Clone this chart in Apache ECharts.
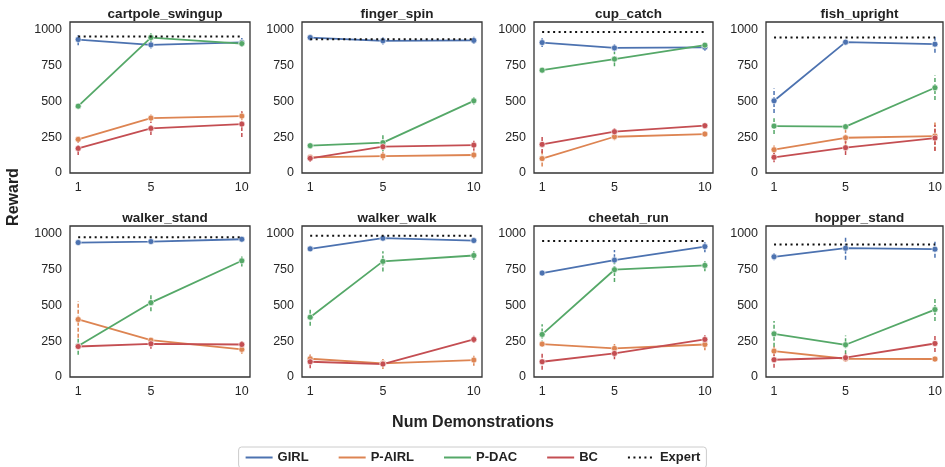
<!DOCTYPE html>
<html>
<head>
<meta charset="utf-8">
<script src="https://cdn.jsdelivr.net/npm/echarts@6/dist/echarts.min.js"></script>
<style>
  html, body { margin: 0; padding: 0; background: #fff; }
  #chart { width: 945px; height: 467px; }
</style>
</head>
<body>
<div id="chart"></div>
<script>
// number of demonstrations (x values)
var demos = [1, 5, 10];
var tasks = ['cartpole_swingup', 'finger_spin', 'cup_catch', 'fish_upright',
             'walker_stand', 'walker_walk', 'cheetah_run', 'hopper_stand'];
var yTicks = [0, 250, 500, 750, 1000];

// mean reward per task, one row per task (demos 1, 5, 10)
var girlMean = [[928, 891, 908], [942, 919, 922], [907, 870, 874], [502, 910, 896],
                [935, 942, 958], [891, 965, 949], [723, 813, 907], [836, 896, 889]];
var girlErr = [[40, 25, 30], [20, 25, 25], [30, 25, 25], [85, 10, 60],
               [15, 15, 15], [10, 15, 15], [20, 70, 40], [25, 80, 60]];

var pairlMean = [[234, 382, 396], [109, 118, 125], [100, 252, 271], [162, 245, 257],
                 [400, 256, 192], [127, 95, 118], [229, 199, 226], [180, 127, 125]];
var pairlErr = [[20, 25, 30], [20, 30, 25], [55, 25, 20], [40, 90, 100],
                [127, 20, 30], [40, 40, 40], [20, 30, 40], [35, 20, 20]];

var pdacMean = [[465, 942, 900], [190, 211, 502], [715, 792, 889], [326, 322, 593],
                [215, 517, 808], [416, 804, 845], [296, 746, 776], [300, 224, 469]];
var pdacErr = [[10, 30, 20], [20, 60, 25], [15, 50, 15], [55, 10, 85],
               [60, 60, 40], [60, 70, 30], [70, 85, 40], [90, 65, 80]];

var bcMean = [[171, 310, 340], [102, 183, 194], [199, 287, 329], [109, 176, 243],
              [212, 231, 226], [106, 90, 261], [106, 164, 261], [120, 134, 233]];
var bcErr = [[45, 45, 90], [25, 15, 40], [60, 25, 20], [35, 50, 90],
             [15, 35, 25], [45, 20, 25], [55, 40, 40], [55, 30, 60]];

var expertReward = [950, 930, 981, 942, 972, 982, 945, 922];

var methods = [
  { name: 'GIRL', color: '#4c72b0', mean: girlMean, err: girlErr },
  { name: 'P-AIRL', color: '#dd8452', mean: pairlMean, err: pairlErr },
  { name: 'P-DAC', color: '#55a868', mean: pdacMean, err: pdacErr },
  { name: 'BC', color: '#c44e52', mean: bcMean, err: bcErr }
];

var FONT = "'Liberation Sans', Arial, Helvetica, sans-serif";
var lefts = [70, 302, 534, 766];
var widths = [180, 180, 179, 177];
var tops = [22, 226];
var plotH = 151;

var grids = [], xAxes = [], yAxes = [], titles = [], series = [];

tasks.forEach(function (task, i) {
  var col = i % 4, row = Math.floor(i / 4);
  grids.push({
    left: lefts[col], top: tops[row], width: widths[col], height: plotH,
    show: true, borderColor: '#333', borderWidth: 1.3, backgroundColor: '#fff'
  });
  xAxes.push({
    type: 'value', gridIndex: i, min: 0.55, max: 10.45,
    splitLine: { show: false }, axisLine: { show: false }, axisTick: { show: false },
    axisLabel: { customValues: demos, margin: 8, fontFamily: FONT, fontSize: 12.5, color: '#262626' }
  });
  yAxes.push({
    type: 'value', gridIndex: i, min: 0, max: 1050,
    splitLine: { show: false }, axisLine: { show: false }, axisTick: { show: false },
    axisLabel: {
      customValues: yTicks, margin: 8, fontFamily: FONT, fontSize: 12.5, color: '#262626',
      formatter: function (v) { return String(v); }
    }
  });
  titles.push({
    text: task, left: lefts[col] + widths[col] / 2, top: row === 0 ? 2 : 206,
    textAlign: 'center',
    textStyle: { fontFamily: FONT, fontSize: 13.5, fontWeight: 'bold', color: '#222' }
  });

  methods.forEach(function (m) {
    // error bars
    series.push({
      type: 'custom', name: m.name + ' err', xAxisIndex: i, yAxisIndex: i,
      silent: true, z: 2,
      encode: { x: 0, y: [1, 2] },
      data: demos.map(function (d, k) {
        return [d, m.mean[i][k] - m.err[i][k], m.mean[i][k] + m.err[i][k]];
      }),
      renderItem: function (params, api) {
        var p1 = api.coord([api.value(0), api.value(1)]);
        var p2 = api.coord([api.value(0), api.value(2)]);
        return {
          type: 'line',
          shape: { x1: p1[0], y1: p1[1], x2: p2[0], y2: p2[1] },
          style: { stroke: m.color, lineWidth: 1.5, lineDash: [4, 2] }
        };
      }
    });
    series.push({
      type: 'line', name: m.name, xAxisIndex: i, yAxisIndex: i, z: 3,
      data: demos.map(function (d, k) { return [d, m.mean[i][k]]; }),
      symbol: 'circle', symbolSize: 6,
      lineStyle: { color: m.color, width: 1.8 },
      itemStyle: { color: m.color, borderColor: '#fff', borderWidth: 0.6 },
      animation: false
    });
  });

  series.push({
    type: 'line', name: 'Expert', xAxisIndex: i, yAxisIndex: i, z: 4,
    data: [[demos[0], expertReward[i]], [demos[demos.length - 1], expertReward[i]]],
    symbol: 'none',
    lineStyle: { color: '#111', width: 2, type: [2, 3.5] },
    itemStyle: { color: '#111' },
    animation: false
  });
});

var chart = echarts.init(document.getElementById('chart'), null, { renderer: 'canvas' });
chart.setOption({
  animation: false,
  backgroundColor: '#fff',
  title: titles,
  grid: grids,
  xAxis: xAxes,
  yAxis: yAxes,
  series: series,
  legend: {
    data: ['GIRL', 'P-AIRL', 'P-DAC', 'BC', 'Expert'],
    left: 'center', top: 447,
    itemWidth: 27, itemHeight: 12, itemGap: 29,
    padding: [4, 6], borderColor: '#ccc', borderWidth: 1, borderRadius: 3,
    itemStyle: { opacity: 0 },
    textStyle: { fontFamily: FONT, fontSize: 13, fontWeight: 'bold', color: '#222' }
  },
  graphic: [
    {
      type: 'text', x: 14, y: 197, rotation: Math.PI / 2,
      style: { text: 'Reward', align: 'center', verticalAlign: 'middle',
               font: 'bold 16px ' + FONT, fill: '#222' }
    },
    {
      type: 'text', x: 473, y: 423,
      style: { text: 'Num Demonstrations', align: 'center', verticalAlign: 'middle',
               font: 'bold 16px ' + FONT, fill: '#222' }
    }
  ]
});
</script>
</body>
</html>
